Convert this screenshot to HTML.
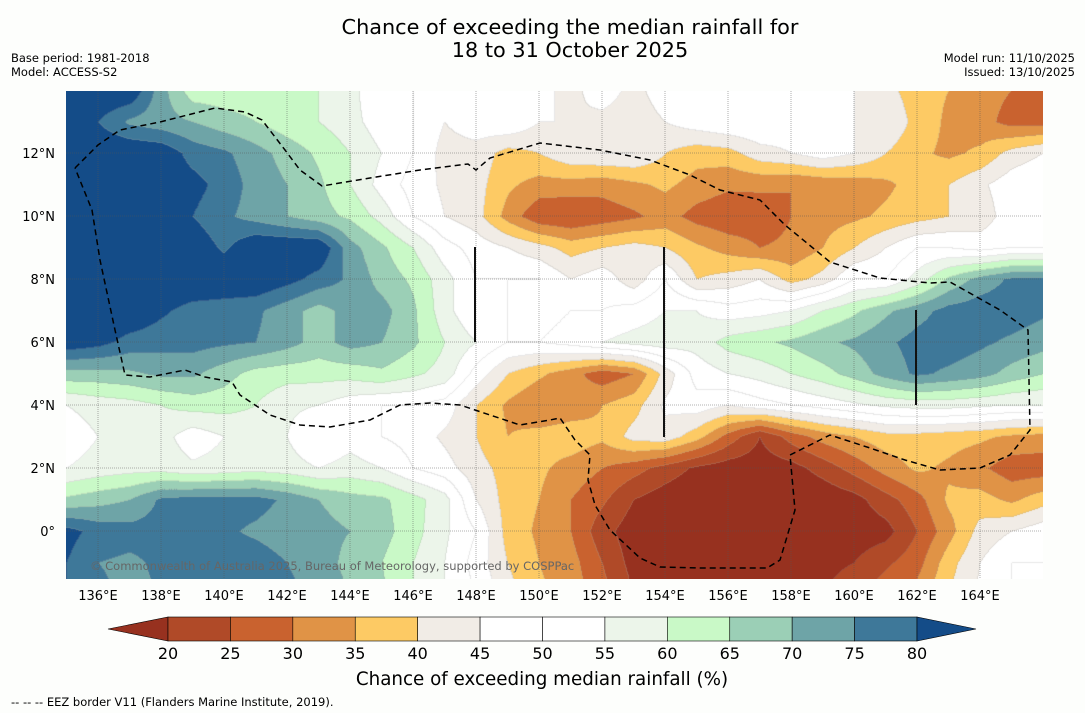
<!DOCTYPE html>
<html><head><meta charset="utf-8">
<style>
html,body{margin:0;padding:0;background:#fdfefc;}
#wrap{position:relative;width:1085px;height:713px;overflow:hidden;font-family:"DejaVu Sans","Liberation Sans",sans-serif;}
#map{position:absolute;left:66px;top:91px;}
#ov{position:absolute;left:0;top:0;}
text{font-family:"DejaVu Sans","Liberation Sans",sans-serif;}
</style></head>
<body>
<div id="wrap">
<canvas id="map" width="977" height="488"></canvas>
<svg id="ov" width="1085" height="713">
 <g id="grid"></g>
 <g id="eez"></g>
 <g id="bars"></g>
 <text x="570" y="34" font-size="20.8" text-anchor="middle" fill="#000">Chance of exceeding the median rainfall for</text>
 <text x="570" y="57" font-size="20.8" text-anchor="middle" fill="#000">18 to 31 October 2025</text>
 <text x="11" y="62" font-size="11.5" fill="#000">Base period: 1981-2018</text>
 <text x="11" y="76" font-size="11.5" fill="#000">Model: ACCESS-S2</text>
 <text x="1075" y="62" font-size="11.5" text-anchor="end" fill="#000">Model run: 11/10/2025</text>
 <text x="1075" y="76" font-size="11.5" text-anchor="end" fill="#000">Issued: 13/10/2025</text>
 <text x="90" y="570" font-size="11.5" fill="#666">© Commonwealth of Australia 2025, Bureau of Meteorology, supported by COSPPac</text>
 <g id="xt"></g>
 <g id="yt"></g>
 <g id="cb"></g>
 <text x="542" y="685" font-size="18.3" text-anchor="middle" fill="#000">Chance of exceeding median rainfall (%)</text>
 <text x="11" y="706" font-size="11.5" fill="#000">--  --  -- EEZ border V11 (Flanders Marine Institute, 2019).</text>
</svg>
</div>
<script>
const lons = [135,136,137,138,139,140,141,142,143,144,145,146,147,148,149,150,151,152,153,154,155,156,157,158,159,160,161,162,163,164,165,166];
const lats = [14,13,12,11,10,9,8,7,6,5,4,3,2,1,0,-1,-2];
const r14 = [85,85,85,72,62,62,62,62,60,57,50,50,50,50,48,48,42,50,42,50,50,45,50,50,50,45,42,37,35,32,30,28];
const r13 = [85,80,74,72,70,67,65,62,60,57,52,50,45,48,50,45,45,42,40,45,48,50,50,48,50,45,45,38,34,32,28,28];
const r12 = [85,85,85,84,78,76,72,68,64,60,55,50,43,43,38,40,44,45,45,40,37,38,43,45,48,45,40,36,34,36,42,45];
const r11 = [85,85,85,84,82,78,73,70,66,60,53,48,44,42,36,33,33,32,34,36,33,31,31,30,31,32,34,37,40,44,48,50];
const r10 = [85,85,85,85,80,76,73,70,67,64,58,50,45,42,33,26,25,27,29,32,28,26,27,30,33,34,36,38,40,42,48,50];
const r9  = [85,85,85,85,84,79,85,85,85,72,66,60,52,48,45,42,38,40,42,40,36,33,30,31,35,40,45,50,50,48,50,50];
const r8  = [85,85,85,85,85,85,85,82,78,74,68,64,57,50,50,50,45,48,42,50,40,42,45,38,42,50,50,57,66,72,76,76];
const r7  = [85,85,85,81,78,77,76,72,68,72,72,66,57,50,50,48,50,50,52,55,55,52,53,55,60,64,69,73,77,78,78,76];
const r6  = [84,82,78,77,77,76,75,72,68,72,70,66,60,55,50,50,52,55,57,58,57,62,64,66,69,71,74,77,78,76,74,72];
const r5  = [68,68,69,71,71,67,63,62,62,62,64,61,58,48,40,36,32,27,30,42,52,55,57,60,63,67,72,76,74,72,68,65];
const r4  = [55,57,58,60,62,62,60,56,55,52,50,50,48,40,34,30,32,35,38,46,48,45,48,50,52,54,56,57,57,56,55,55];
const r3  = [52,55,56,57,52,55,57,55,50,53,50,48,44,40,35,37,38,36,42,43,37,28,20,27,32,35,38,38,37,36,34,33];
const r2  = [55,57,58,58,56,57,58,57,55,57,55,50,47,42,38,36,33,30,27,23,19,17,17,18,22,27,32,36,34,31,27,27];
const r1  = [66,68,70,76,77,77,77,74,70,67,66,62,57,45,38,35,30,26,20,17,15,15,15,15,16,18,23,28,36,37,34,38];
const r0  = [82,78,77,77,78,76,74,72,72,70,67,62,56,50,38,34,30,22,17,15,15,15,15,15,16,17,18,25,33,42,45,48];
const rm1 = [80,75,74,76,77,78,78,75,73,68,65,60,55,48,40,35,32,25,18,15,15,15,15,17,18,20,24,28,38,45,50,50];
const rm2 = [80,76,74,75,76,78,78,76,74,70,66,60,55,50,42,36,33,27,20,17,16,16,17,18,20,24,28,32,40,46,50,50];
const values = [r14,r13,r12,r11,r10,r9,r8,r7,r6,r5,r4,r3,r2,r1,r0,rm1,rm2];
const levels = [20,25,30,35,40,45,50,55,60,65,70,75,80];
const colors = ["#97311f","#b04a28","#c9622f","#e09346","#fdca64","#f1ece6","#ffffff","#ffffff","#ecf5ea","#c9f9c7","#9bcfb6","#6ea4a7","#3e7899","#144c88"];
const xTicks = [136,138,140,142,144,146,148,150,152,154,156,158,160,162,164];
const yTicks = [12,10,8,6,4,2,0];

const SC = 31.5;
function xOf(lon){ return 66.5 + (lon-135)*SC; }
function yOf(lat){ return 90 + (14-lat)*SC; }
function hex(c){ return [parseInt(c.substr(1,2),16),parseInt(c.substr(3,2),16),parseInt(c.substr(5,2),16)]; }
const rgb = colors.map(hex);
function cls(v){ let k=0; while(k<levels.length && v>=levels[k]) k++; return k; }
function val(lon,lat){
  let fx=(lon-lons[0]); let fy=(lats[0]-lat);
  fx=Math.max(0,Math.min(lons.length-1.001,fx)); fy=Math.max(0,Math.min(lats.length-1.001,fy));
  const i=Math.floor(fx), j=Math.floor(fy), tx=fx-i, ty=fy-j;
  const a=values[j][i], b=values[j][i+1], c=values[j+1][i], d=values[j+1][i+1];
  return (a*(1-tx)+b*tx)*(1-ty)+(c*(1-tx)+d*tx)*ty;
}
(function drawMap(){
  const cv=document.getElementById('map'); const ctx=cv.getContext('2d');
  const W=cv.width,H=cv.height; const img=ctx.createImageData(W,H);
  const C=new Int16Array(W*H);
  for(let py=0;py<H;py++){ const lat=14-(py+91-90)/SC;
    for(let px=0;px<W;px++){ const lon=135+(px+66-66.5)/SC; C[py*W+px]=cls(val(lon,lat)); } }
  for(let py=0;py<H;py++) for(let px=0;px<W;px++){
    const k=C[py*W+px]; let col=rgb[k];
    const edge=(px<W-1&&C[py*W+px+1]!==k)||(py<H-1&&C[(py+1)*W+px]!==k);
    const o=(py*W+px)*4;
    if(edge){ img.data[o]=col[0]*0.75+40; img.data[o+1]=col[1]*0.75+40; img.data[o+2]=col[2]*0.75+40; }
    else { img.data[o]=col[0]; img.data[o+1]=col[1]; img.data[o+2]=col[2]; }
    img.data[o+3]=255;
  }
  ctx.putImageData(img,0,0);
})();
const NS="http://www.w3.org/2000/svg";
function mk(tag,attrs,parent){ const e=document.createElementNS(NS,tag); for(const k in attrs) e.setAttribute(k,attrs[k]); parent.appendChild(e); return e; }
const grid=document.getElementById('grid');
xTicks.forEach(l=>{ const e=mk('line',{x1:xOf(l),x2:xOf(l),y1:91,y2:578,stroke:'#555','stroke-width':0.8,'stroke-dasharray':'1,1','stroke-opacity':0.6},grid);
  
   });
yTicks.forEach(l=>{ const e=mk('line',{x1:66,x2:1042,y1:yOf(l),y2:yOf(l),stroke:'#555','stroke-width':0.8,'stroke-dasharray':'1,1','stroke-opacity':0.6},grid);
  
   });
const xt=document.getElementById('xt');
xTicks.forEach(l=>{ const t=mk('text',{x:xOf(l),y:600,'font-size':13,'text-anchor':'middle',fill:'#000'},xt); t.textContent=l+'°E';
  
   });
const yt=document.getElementById('yt');
yTicks.forEach(l=>{ const t=mk('text',{x:55,y:yOf(l)+5,'font-size':13,'text-anchor':'end',fill:'#000'},yt); t.textContent=l===0?'0°':l+'°N';
  
   });
const eezPts="75,168 98,145 120,130 160,122 215,108 245,112 262,120 285,150 300,170 322,186 370,178 420,170 468,164 476,170 490,158 540,143 600,150 650,160 690,175 720,190 760,200 785,225 830,262 880,278 930,283 950,282 1000,310 1028,330 1030,430 1010,455 980,468 940,470 905,460 870,448 830,435 790,455 795,510 780,560 767,568 700,568 660,567 640,558 610,530 595,505 588,480 590,455 575,440 560,418 550,420 520,425 490,415 460,405 430,403 400,405 370,420 330,427 300,425 270,415 240,395 232,382 205,377 185,370 150,377 125,375 115,330 100,260 92,210 75,168";
const eez=mk('polyline',{points:eezPts,fill:'none',stroke:'#000','stroke-width':1.5,'stroke-dasharray':'6,4'},document.getElementById('eez'));


const bars=document.getElementById('bars');
[[475,247,342],[664,247,437],[916,310,405]].forEach(b=>{ const e=mk('line',{x1:b[0],x2:b[0],y1:b[1],y2:b[2],stroke:'#111','stroke-width':2},bars);
  
   });
const cb=document.getElementById('cb');
const cx0=168, cw=(917-168)/12, cy=617, ch=24;
const lt=mk('polygon',{points:`108,${cy+ch/2} ${cx0},${cy} ${cx0},${cy+ch}`,fill:colors[0],stroke:'#000','stroke-width':0.6},cb);


for(let i=0;i<12;i++){ const r=mk('rect',{x:cx0+i*cw,y:cy,width:cw,height:ch,fill:colors[i+1],stroke:'#000','stroke-width':0.6},cb);
  
   }
const rt=mk('polygon',{points:`917,${cy} 917,${cy+ch} 976,${cy+ch/2}`,fill:colors[13],stroke:'#000','stroke-width':0.6},cb);


levels.forEach((l,i)=>{ const t=mk('text',{x:cx0+i*cw,y:659,'font-size':16,'text-anchor':'middle',fill:'#000'},cb); t.textContent=l;
  
   });
</script>
</body></html>
